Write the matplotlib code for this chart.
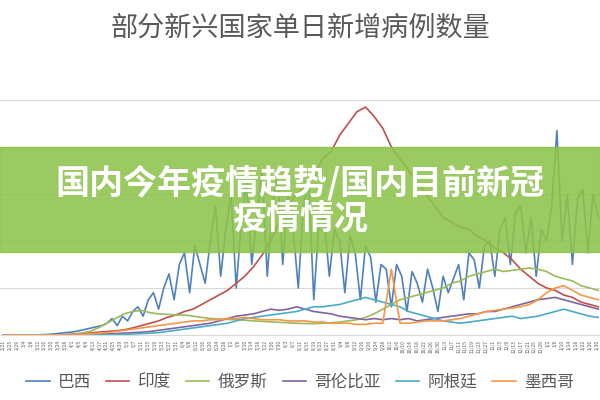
import matplotlib
matplotlib.use('Agg')
import matplotlib.pyplot as plt
import matplotlib.dates as mdates
import datetime as dt

plt.rcParams['font.family'] = ['Noto Sans CJK SC', 'DejaVu Sans']

# daily new cases (thousands); Brazil sampled every 3 days, others every 5 days, from 2020-02-21
start = dt.date(2020, 2, 21)
brazil = [0, 0, 0, 0, 0, 0, 0, 0.1, 0.2, 0.3, 0.5, 0.8, 1, 1.2, 1.5, 2, 2.5, 3, 3.5, 4,
          5, 7, 4, 8, 6, 10, 12, 8, 15, 18, 11, 20, 26, 15,
          30, 35, 18, 38, 30, 22, 40, 55, 25, 45, 60, 20, 48, 65, 30, 50, 70, 25, 55, 68,
          30, 60, 45, 20, 55, 65, 15, 48, 50, 25, 45, 40, 18, 42, 35, 15, 38, 33, 14, 30,
          28, 12, 30, 25, 10, 27, 22, 14, 28, 20, 10, 25, 18, 24, 30, 15, 35, 32, 20, 38,
          40, 25, 45, 50, 30, 52, 55, 35, 50, 25, 45, 40, 55, 87, 40, 60, 30, 58, 62, 35, 60, 50]
india = [0, 0, 0, 0, 0, 0, 0, 0.1, 0.3, 0.6,
         0.9, 1.2, 1.5, 1.8, 2.2, 3, 4, 5, 6, 7.5,
         8.5, 10, 11, 13, 15, 17, 19, 22, 25, 29,
         34, 40, 48, 55, 60, 63, 67, 75, 78, 85,
         90, 95, 97, 93, 88, 80, 75, 70, 65, 60,
         55, 50, 48, 46, 45, 42, 40, 37, 35, 32,
         28, 25, 22, 20, 19, 17, 16, 14, 13, 12]
russia = [0, 0, 0, 0, 0, 0, 0, 0.1, 0.3, 0.8,
          1.5, 3, 5, 7, 9, 10, 10.5, 9.5, 9, 8.8,
          8.5, 8.5, 8, 7.5, 7, 6.8, 6.6, 6.5, 6.3, 6,
          5.8, 5.6, 5.4, 5.2, 5, 4.9, 4.8, 5, 5.2, 5.5,
          6, 6.5, 7.5, 9, 11, 13, 15, 16, 17, 18,
          19, 20, 22, 23, 25, 26, 27, 28, 27, 27.5,
          28, 28.5, 28, 27, 25, 24, 23, 21, 20, 19]
colombia = [0, 0, 0, 0, 0, 0, 0, 0.1, 0.1, 0.2,
            0.3, 0.4, 0.5, 0.6, 0.8, 1, 1.2, 1.5, 2, 2.5,
            3, 3.5, 4, 4.5, 5, 6, 7, 8, 8.5, 9,
            10, 11, 10.5, 11, 12, 11, 10, 9.5, 9, 8,
            7.5, 7, 6.5, 7, 6.5, 7, 6.5, 7, 6, 6.5,
            7, 7.5, 8, 8.5, 9, 9, 10, 10, 11, 12,
            13, 14, 15, 15.5, 16, 15, 14, 13, 12, 11]
argentina = [0, 0, 0, 0, 0, 0, 0, 0, 0.1, 0.1,
             0.1, 0.1, 0.2, 0.2, 0.3, 0.4, 0.6, 0.8, 1, 1.5,
             2, 2.5, 3, 3.5, 4, 4.5, 5, 6, 7, 7.5,
             8, 8.5, 9, 9.5, 10, 11, 12, 12, 12.5, 13,
             14, 15, 16, 15, 14, 13, 12, 10, 9, 8,
             7, 6, 5.5, 5, 5.5, 6, 6.5, 7, 7.5, 8,
             7, 7.5, 8, 9, 10, 11, 10, 9, 8, 7.5]
mexico = [0, 0, 0, 0, 0, 0, 0, 0.1, 0.2, 0.3,
          0.5, 0.8, 1, 1.5, 2, 2.5, 3, 3.5, 4, 4.5,
          5, 5.5, 6, 6, 6.5, 6.5, 7, 7, 7.5, 7,
          6.5, 6.5, 6.5, 6, 6, 6, 5.5, 5.5, 5, 5,
          5, 4.5, 4.5, 5, 5, 28, 5, 5, 5.5, 6,
          6, 6, 6.5, 7, 8, 9, 10, 10.5, 11, 11.5,
          12, 13, 15, 18, 20, 21, 19, 17, 16, 15]

names = ['巴西', '印度', '俄罗斯', '哥伦比亚', '阿根廷', '墨西哥']
series = [brazil, india, russia, colombia, argentina, mexico]
steps = [3, 5, 5, 5, 5, 5]
colors = ['#4F81BD', '#C0504D', '#9BBB59', '#8064A2', '#4BACC6', '#F79646']

fig = plt.figure(figsize=(6, 4), dpi=100)
ax = fig.add_axes([0.0, 0.1625, 1.0, 0.5875])
for name, vals, step, c in zip(names, series, steps, colors):
    dates = [start + dt.timedelta(days=step * i) for i in range(len(vals))]
    ax.plot(dates, vals, color=c, lw=1.2, label=name)

ax.set_ylim(0, 100)
ax.set_yticks([0, 20, 40, 60, 80, 100])
ax.set_yticklabels([])
ax.tick_params(axis='y', length=0)
ax.grid(axis='y', color='#d9d9d9', lw=0.8)
ax.set_xlim(dt.date(2020, 2, 19), dt.date(2021, 2, 1))
ax.xaxis.set_major_locator(mdates.DayLocator(interval=4))
ax.xaxis.set_major_formatter(mdates.DateFormatter('%-m/%-d'))
ax.tick_params(axis='x', labelsize=3.5, rotation=90, length=0, colors='#595959')
for s in ax.spines.values():
    s.set_visible(False)
ax.spines['bottom'].set_visible(True)
ax.spines['bottom'].set_color('#d9d9d9')

fig.text(0.5, 0.93, '部分新兴国家单日新增病例数量', ha='center', va='center',
         fontsize=19.5, color='#595959')
ax.legend(loc='upper center', bbox_to_anchor=(0.5, -0.10), ncol=6, frameon=False,
          fontsize=12, handlelength=1.4, handletextpad=0.5, columnspacing=0.9,
          labelcolor='#595959')

# green banner overlay
fig.patches.append(plt.Rectangle((0, 0.37), 1, 0.262, transform=fig.transFigure,
                                 color='#8cc34b', alpha=0.88, zorder=5))
fig.text(0.5, 0.543, '国内今年疫情趋势/国内目前新冠', ha='center', va='center',
         fontsize=24.5, fontweight='bold', color='white', zorder=6)
fig.text(0.5, 0.455, '疫情情况', ha='center', va='center',
         fontsize=24.5, fontweight='bold', color='white', zorder=6)

fig.savefig('out.png', dpi=100)
